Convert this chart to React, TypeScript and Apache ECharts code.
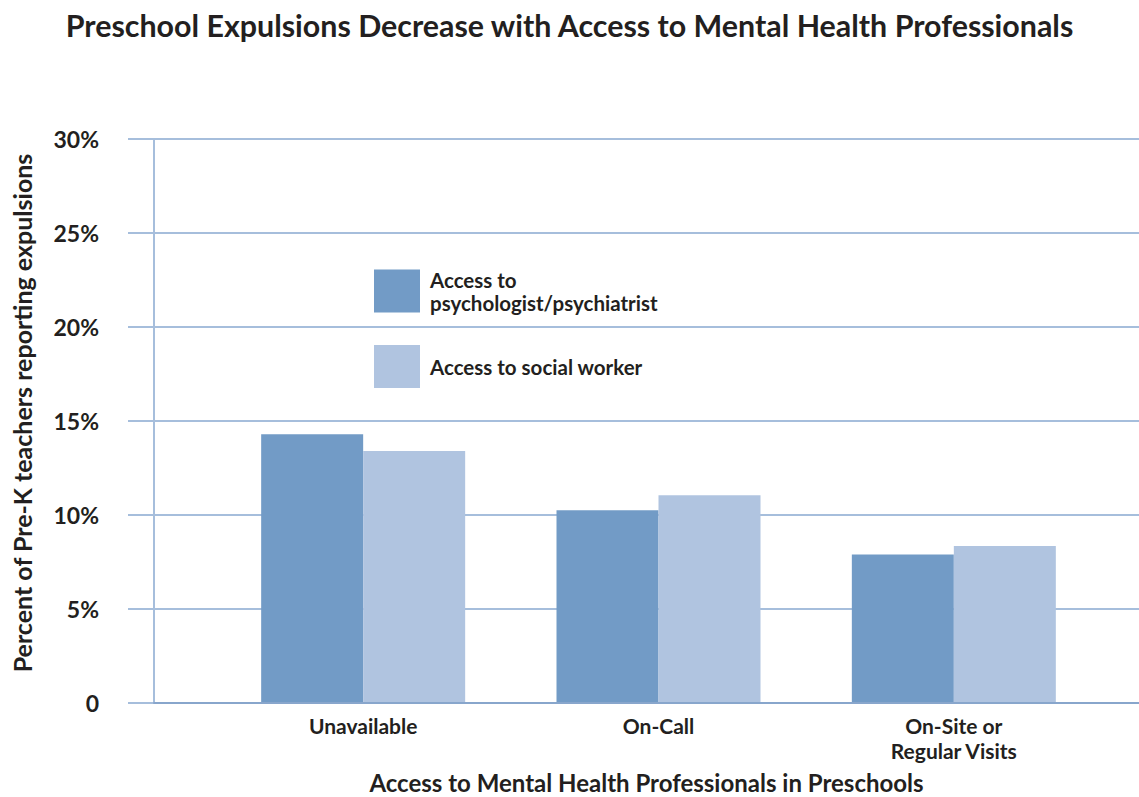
import React, { useEffect, useRef } from "react";
import * as echarts from "echarts";

const categories = ["Unavailable", "On-Call", "On-Site or\nRegular Visits"];
const seriesNames = ["Access to\npsychologist/psychiatrist", "Access to social worker"];
const psychologistValues = [14.3, 10.25, 7.9];
const socialWorkerValues = [13.4, 11.05, 8.35];
const yTickValues = [0, 5, 10, 15, 20, 25, 30];

const FONT = "Lato, 'Noto Sans', sans-serif";
const TEXT = "#231f20";
const DARK = "#729bc6";
const LIGHT = "#b0c4e0";
const GRIDLINE = "#a6bedc";
const BASELINE = "#88a6cc";

export default function App() {
  const ref = useRef<HTMLDivElement>(null);
  useEffect(() => {
    if (!ref.current) return;
    const chart = echarts.init(ref.current, undefined, { renderer: "svg" });
    const yMin = yTickValues[0];
    const yMax = yTickValues[yTickValues.length - 1];
    const yStep = yTickValues[1] - yTickValues[0];
    chart.setOption({
      animation: false,
      backgroundColor: "#ffffff",
      title: {
        text: "Preschool Expulsions Decrease with Access to Mental Health Professionals",
        left: "center",
        top: 5,
        textStyle: { fontFamily: FONT, fontWeight: "bold", fontSize: 30.4, color: TEXT },
      },
      legend: {
        orient: "vertical",
        left: 374,
        top: 268,
        padding: 0,
        itemWidth: 46,
        itemHeight: 43,
        itemGap: 31,
        icon: "rect",
        data: seriesNames,
        textStyle: { fontFamily: FONT, fontWeight: "bold", fontSize: 20.5, lineHeight: 23, color: TEXT, padding: [0, 0, 0, 5] },
      },
      grid: [
        { left: 154, right: 0, top: 139, bottom: 94, containLabel: false, outerBoundsMode: "none" },
        { left: 215.5, right: 37.5, top: 139, bottom: 94, containLabel: false, outerBoundsMode: "none" },
      ],
      xAxis: [
        {
          type: "category",
          gridIndex: 0,
          data: [""],
          axisLine: { show: true, lineStyle: { color: BASELINE, width: 2 } },
          axisTick: { show: false },
          axisLabel: { show: false },
          name: "Access to Mental Health Professionals in Preschools",
          nameLocation: "middle",
          nameGap: 67,
          nameTextStyle: { fontFamily: FONT, fontWeight: "bold", fontSize: 24, lineHeight: 25, color: TEXT },
          z: 5,
        },
        {
          type: "category",
          gridIndex: 1,
          data: categories,
          axisLine: { show: false },
          axisTick: { show: false },
          axisLabel: { fontFamily: FONT, fontWeight: "bold", fontSize: 21, lineHeight: 25, color: TEXT, margin: 10 },
        },
      ],
      yAxis: [
        {
          type: "value",
          gridIndex: 0,
          min: yMin,
          max: yMax,
          interval: yStep,
          axisLine: { show: true, lineStyle: { color: GRIDLINE, width: 2 } },
          axisTick: { show: true, inside: false, length: 26, lineStyle: { color: GRIDLINE, width: 2 } },
          splitLine: { show: true, lineStyle: { color: GRIDLINE, width: 2 } },
          axisLabel: {
            fontFamily: FONT,
            fontWeight: "bold",
            fontSize: 23,
            color: TEXT,
            margin: 55,
            formatter: (v: number) => (v === 0 ? "0" : v + "%"),
          },
          name: "Percent of Pre-K teachers reporting expulsions",
          nameLocation: "middle",
          nameGap: 120,
          nameTextStyle: { fontFamily: FONT, fontWeight: "bold", fontSize: 25, color: TEXT, padding: [0, 0, 0, 16] },
        },
        {
          type: "value",
          gridIndex: 1,
          min: yMin,
          max: yMax,
          interval: yStep,
          show: false,
          splitLine: { show: false },
        },
      ],
      series: [
        {
          name: seriesNames[0],
          type: "bar",
          xAxisIndex: 1,
          yAxisIndex: 1,
          data: psychologistValues,
          barWidth: 102,
          barGap: "0%",
          itemStyle: { color: DARK },
        },
        {
          name: seriesNames[1],
          type: "bar",
          xAxisIndex: 1,
          yAxisIndex: 1,
          data: socialWorkerValues,
          barWidth: 102,
          barGap: "0%",
          itemStyle: { color: LIGHT },
        },
      ],
    });
    return () => chart.dispose();
  }, []);
  return <div ref={ref} style={{ position: "fixed", left: 0, top: 0, width: 1139, height: 797 }} />;
}
